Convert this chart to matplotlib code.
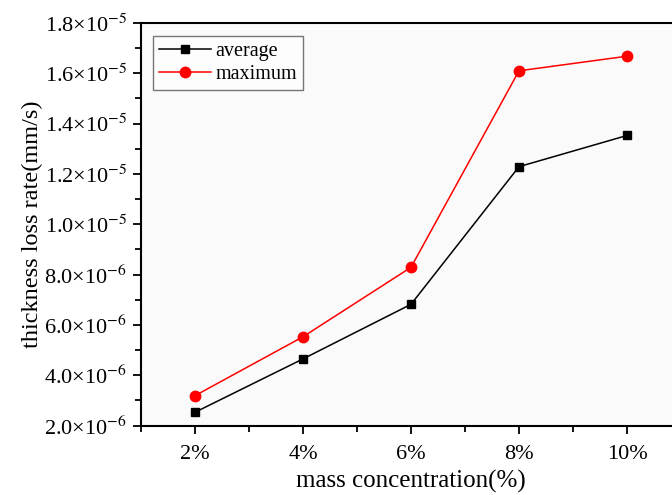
import numpy as np
import matplotlib
matplotlib.use('Agg')
import matplotlib.pyplot as plt
from matplotlib.ticker import FixedLocator, MultipleLocator

plt.rcParams['font.family'] = ['Liberation Serif', 'DejaVu Serif']
plt.rcParams['mathtext.fontset'] = 'stix'

conc = [2, 4, 6, 8, 10]
conc_labels = ['2%', '4%', '6%', '8%', '10%']
average = [2.53e-6, 4.65e-6, 6.82e-6, 12.29e-6, 13.53e-6]
maximum = [3.19e-6, 5.53e-6, 8.29e-6, 16.10e-6, 16.68e-6]
yticks = [2e-6, 4e-6, 6e-6, 8e-6, 1.0e-5, 1.2e-5, 1.4e-5, 1.6e-5, 1.8e-5]
ytick_labels = [r'2.0×10$^{-6}$', r'4.0×10$^{-6}$', r'6.0×10$^{-6}$', r'8.0×10$^{-6}$',
                r'1.0×10$^{-5}$', r'1.2×10$^{-5}$', r'1.4×10$^{-5}$', r'1.6×10$^{-5}$',
                r'1.8×10$^{-5}$']

fig = plt.figure(figsize=(6.72, 4.95), dpi=100)
# axes runs slightly past the right edge of the picture, as in the original
ax = fig.add_axes([141/672, (495-425.6)/495, (681-141)/672, (425.6-23)/495])
ax.set_facecolor('#fafafa')

ax.plot(conc, average, '-', color='black', lw=1.1, marker='s', ms=6.2, label='average')
ax.plot(conc, maximum, '-', color='red', lw=1.1, marker='o', ms=7.5, label='maximum')

ax.set_xlim(1, 11)
ax.set_ylim(2e-6, 1.8e-5)
ax.xaxis.set_major_locator(FixedLocator(conc))
ax.set_xticklabels(conc_labels)
ax.xaxis.set_minor_locator(FixedLocator([1, 3, 5, 7, 9, 11]))
ax.yaxis.set_major_locator(FixedLocator(yticks))
ax.set_yticklabels(ytick_labels)
ax.yaxis.set_minor_locator(MultipleLocator(1e-6))

ax.tick_params(which='both', direction='out', width=1.3, labelsize=16, pad=4)
ax.tick_params(axis='x', pad=8)
ax.tick_params(which='major', length=6)
ax.tick_params(which='minor', length=4)
for sp in ax.spines.values():
    sp.set_linewidth(1.5)

ax.set_xlabel('mass concentration(%)', fontsize=18, labelpad=4)
ax.set_ylabel('thickness loss rate(mm/s)', fontsize=17.5, labelpad=1)

leg = ax.legend(loc='upper left', bbox_to_anchor=(0.022, 0.968), borderaxespad=0,
                fontsize=14.5, frameon=True, fancybox=False, edgecolor='#555555',
                handlelength=2.6, borderpad=0.3, labelspacing=0.2, handletextpad=0.2)
leg.get_frame().set_linewidth(1.0)
leg.get_frame().set_facecolor('white')

fig.savefig('out.png', dpi=100)
